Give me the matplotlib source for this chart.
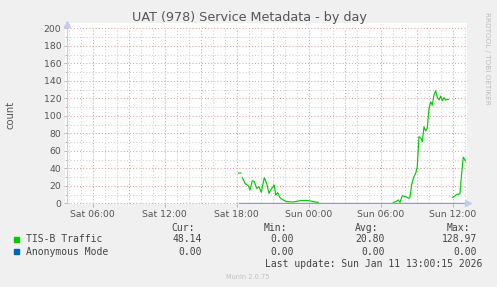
import numpy as np
import matplotlib
matplotlib.use("Agg")
import matplotlib.pyplot as plt

# ---- data (hours since Sat 00:00) ----
tis_hours = [18.16, 18.35, None,
             18.47, 18.69, 18.97, 19.11, 19.30, 19.47, 19.67, 19.86, 20.05, 20.30,
             20.50, 20.69, 20.92, 21.13, 21.25, 21.42, 21.61, 21.88, 22.17, 22.72,
             23.28, 23.83, 24.25, 24.53, 24.80, None,
             31.05, 31.25, 31.47, 31.61, 31.80, 32.08, 32.36, 32.44, 32.58, 32.77,
             32.92, 33.05, 33.19, 33.36, 33.47, 33.61, 33.75, 33.88, 34.03, 34.17,
             34.30, 34.44, 34.58, 34.72, 34.86, 35.00, 35.13, 35.28, 35.40, 35.55,
             35.64, None,
             36.00, 36.19, 36.33, 36.60, 36.75, 36.88, 36.95, 37.07]
tis_values = [34.6, 34.6, None,
              29.3, 22.8, 20.1, 15.2, 25.8, 24.7, 17.1, 19.0, 12.6, 29.3,
              22.8, 11.4, 17.1, 20.9, 9.5, 12.1, 6.4, 3.8, 1.8, 1.5,
              3.0, 3.4, 2.3, 1.5, 1.1, None,
              1.1, 1.8, 3.8, 1.1, 8.7, 7.6, 5.7, 6.8, 21.7, 30.4,
              34.3, 41.9, 76.1, 74.3, 70.4, 87.5, 82.6, 85.7, 108.6, 116.1,
              112.3, 123.8, 128.7, 121.1, 118.1, 122.6, 117.3, 120.7, 118.0, 118.8,
              118.8, None,
              6.8, 8.3, 10.3, 10.6, 34.3, 52.6, 51.5, 48.3]
anon_hours = [18.16, 37.07]
anon_values = [0.0, 0.0]

x_tick_pos = [6, 12, 18, 24, 30, 36]
x_tick_labels = ["Sat 06:00", "Sat 12:00", "Sat 18:00", "Sun 00:00", "Sun 06:00", "Sun 12:00"]
y_ticks = list(range(0, 201, 20))

legend_names = ["TIS-B Traffic", "Anonymous Mode"]
legend_colors = ["#00cc00", "#0066b3"]
cur = ["48.14", "0.00"]
mins = ["0.00", "0.00"]
avgs = ["20.80", "0.00"]
maxs = ["128.97", "0.00"]

title = "UAT (978) Service Metadata - by day"
last_update = "Last update: Sun Jan 11 13:00:15 2026"

# ---- figure ----
W, H = 497, 287
fig = plt.figure(figsize=(W / 100, H / 100), dpi=100, facecolor="#f0f0f0")
ax = fig.add_axes([65 / W, (H - 204) / H, 402 / W, 181 / H])
ax.set_facecolor("white")
x0, x1 = 3.86, 37.193
ax.set_xlim(3.693, x1)
ax.set_ylim(-0.8, 206.06)

dot = (0, (1, 2))
red = "#e6a0a0"
gray = "#cfcfcf"
for h in range(4, 38):
    c = red if h % 3 == 0 else gray
    ax.vlines(h, 0, 200, colors=c, linewidth=0.75, linestyles=dot, zorder=1)
for v in range(0, 201, 10):
    c = red if v % 20 == 0 else gray
    ax.hlines(v, x0, x1, colors=c, linewidth=0.75, linestyles=dot, zorder=1)

t = np.array([np.nan if h is None else h for h in tis_hours], dtype=float)
y = np.array([np.nan if v is None else v for v in tis_values], dtype=float)
ax.plot(t, y, color="#00cc00", linewidth=0.85, zorder=3)
ax.plot(anon_hours, anon_values, color="#8a9cd8", linewidth=1.0, zorder=2)

for s in ["top", "right", "bottom"]:
    ax.spines[s].set_visible(False)
ax.spines["left"].set_position(("data", x0))
ax.spines["left"].set_bounds(0, 205)
ax.spines["left"].set_color("#c4caf0")
ax.spines["left"].set_linewidth(0.8)
# axis arrows
ax.plot([x0], [205], marker="^", color="#c4caf0", markersize=4, clip_on=False, zorder=4)
ax.plot([x1 + 0.1], [0], marker=">", color="#c4caf0", markersize=4, clip_on=False, zorder=4)

ax.set_xticks(x_tick_pos)
ax.set_xticklabels(x_tick_labels)
ax.set_yticks(y_ticks)
ax.set_yticks(list(range(10, 200, 20)), minor=True)
ax.tick_params(axis="y", which="major", length=2.5, width=0.6, color="#aaaaaa",
               labelsize=6.7, labelcolor="#555555", pad=1.5)
ax.tick_params(axis="y", which="minor", length=1.5, width=0.6, color="#aaaaaa")
ax.tick_params(axis="x", which="major", length=2, width=0.6, color="#aaaaaa",
               labelsize=6.7, labelcolor="#555555", pad=2.5)

fig.text(249 / W, 1 - 18 / H, title, ha="center", va="center", fontsize=9.2, color="#555555")
fig.text(10 / W, 1 - 115 / H, "count", ha="center", va="center", rotation=90,
         fontsize=7.2, color="#555555")
fig.text(487 / W, 1 - 58 / H, "RRDTOOL / TOBI OETIKER", ha="center", va="center",
         rotation=270, fontsize=5.2, color="#bdbdbd")

mono = "DejaVu Sans Mono"
fs = 7.0
tc = "#444444"
hdr_y = 228.3
cols_right = [194.5, 287, 378.5, 470.5]
val_right = [202, 293.5, 385, 477]
for xr, lab in zip(cols_right, ["Cur:", "Min:", "Avg:", "Max:"]):
    fig.text(xr / W, 1 - hdr_y / H, lab, ha="right", va="center", family=mono, fontsize=fs, color=tc)
rows_y = [239.3, 251.7]
for i, name in enumerate(legend_names):
    yy = rows_y[i]
    fig.patches.append(plt.Rectangle((14 / W, 1 - (yy + 2.6) / H), 5.3 / W, 5.3 / H,
                                     transform=fig.transFigure, color=legend_colors[i]))
    fig.text(26 / W, 1 - yy / H, name, ha="left", va="center", family=mono, fontsize=fs, color=tc)
    for xr, val in zip(val_right, [cur[i], mins[i], avgs[i], maxs[i]]):
        fig.text(xr / W, 1 - yy / H, val, ha="right", va="center", family=mono, fontsize=fs, color=tc)
fig.text(482 / W, 1 - 264 / H, last_update, ha="right", va="center", family=mono, fontsize=fs, color=tc)
fig.text(248 / W, 1 - 276.7 / H, "Munin 2.0.75", ha="center", va="center", fontsize=4.8, color="#c0c0c0")

fig.savefig("out.png", dpi=100, facecolor=fig.get_facecolor())
